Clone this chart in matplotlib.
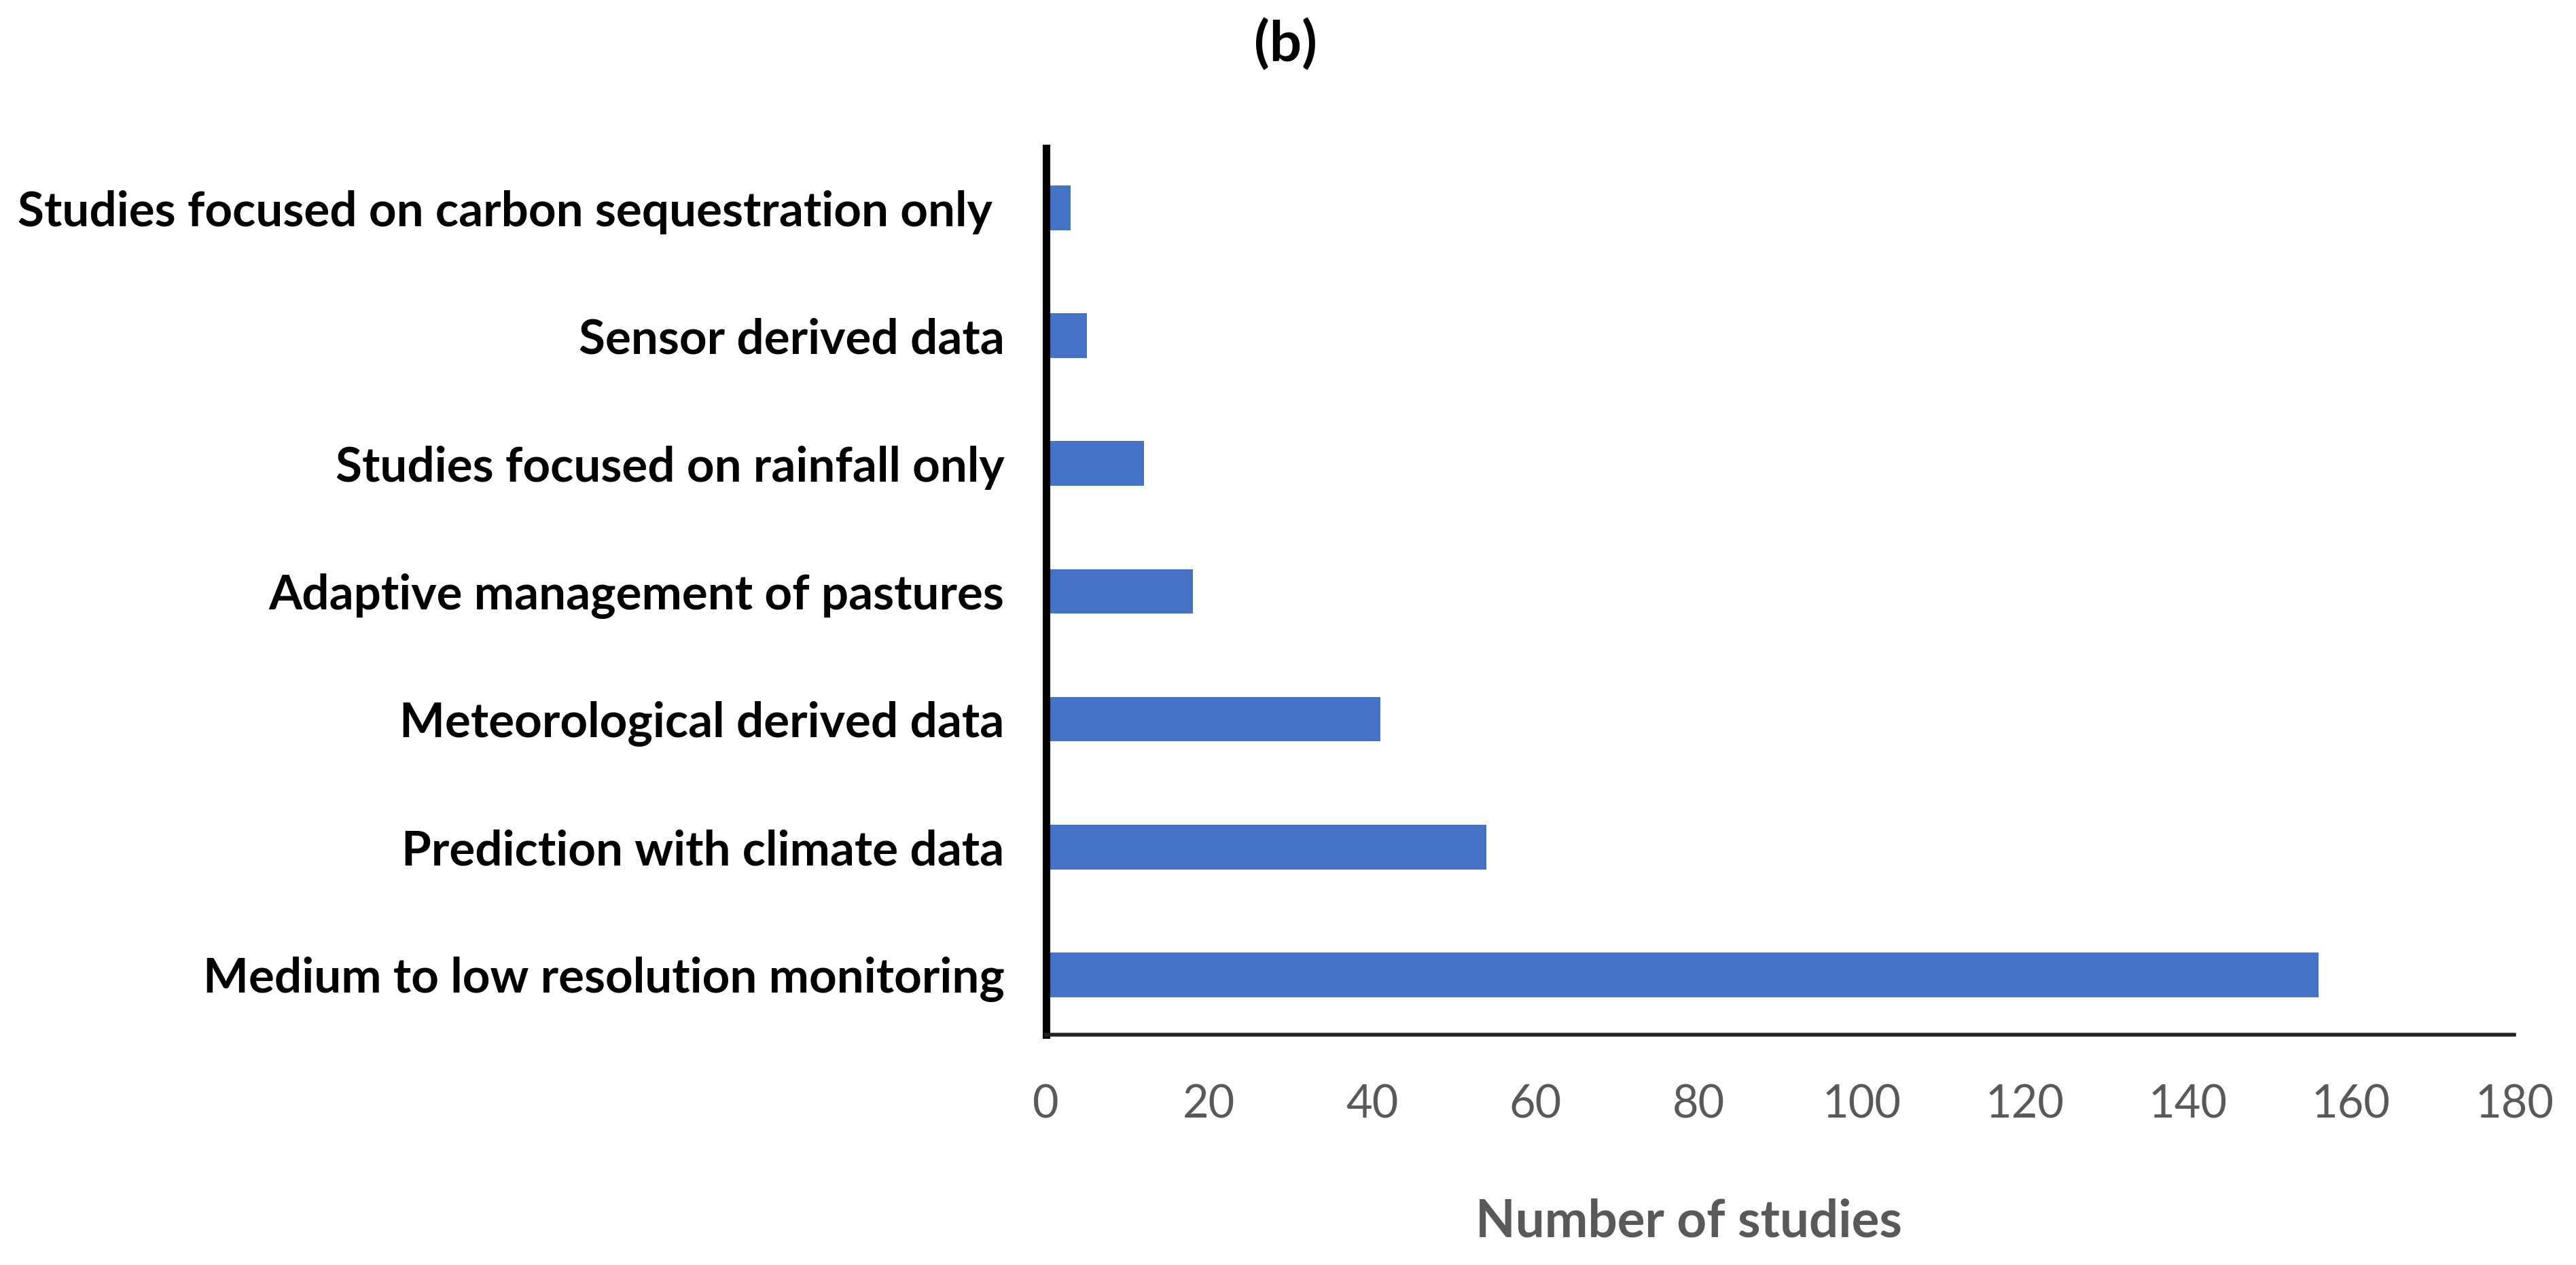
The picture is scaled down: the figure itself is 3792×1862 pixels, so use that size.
import matplotlib
matplotlib.use("Agg")
import matplotlib.pyplot as plt

categories = [
    "Medium to low resolution monitoring",
    "Prediction with climate data",
    "Meteorological derived data",
    "Adaptive management of pastures",
    "Studies focused on rainfall only",
    "Sensor derived data",
    "Studies focused on carbon sequestration only ",
]
counts = [156, 54, 41, 18, 12, 5, 3]
x_ticks = [0, 20, 40, 60, 80, 100, 120, 140, 160, 180]

plt.rcParams["font.family"] = ["Lato", "DejaVu Sans"]

fig = plt.figure(figsize=(37.92, 18.62), dpi=100)
ax = fig.add_axes([0.406, 0.182, 0.570, 0.701])

ax.barh(range(len(categories)), counts, height=0.35, color="#4472C4")

ax.set_xlim(0, 180)
ax.set_ylim(-0.47, len(categories) - 0.53)
ax.set_xticks(x_ticks)
ax.set_yticks(range(len(categories)))
ax.set_yticklabels(categories, fontsize=51, fontweight="bold", color="black")
ax.tick_params(axis="x", length=0, pad=52, labelsize=48, labelcolor="#595959")
ax.tick_params(axis="y", length=0, pad=44)

for side in ("top", "right"):
    ax.spines[side].set_visible(False)
ax.spines["left"].set_linewidth(8)
ax.spines["bottom"].set_linewidth(4)
ax.spines["left"].set_color("black")
ax.spines["bottom"].set_color("#222222")

ax.set_xlabel("Number of studies", fontsize=55, fontweight="bold",
              color="#595959")
ax.xaxis.set_label_coords(0.438, -0.184)
fig.text(0.499, 0.965, "(b)", ha="center", va="center",
         fontsize=60, fontweight="bold")

fig.savefig("out.png", dpi=100)
